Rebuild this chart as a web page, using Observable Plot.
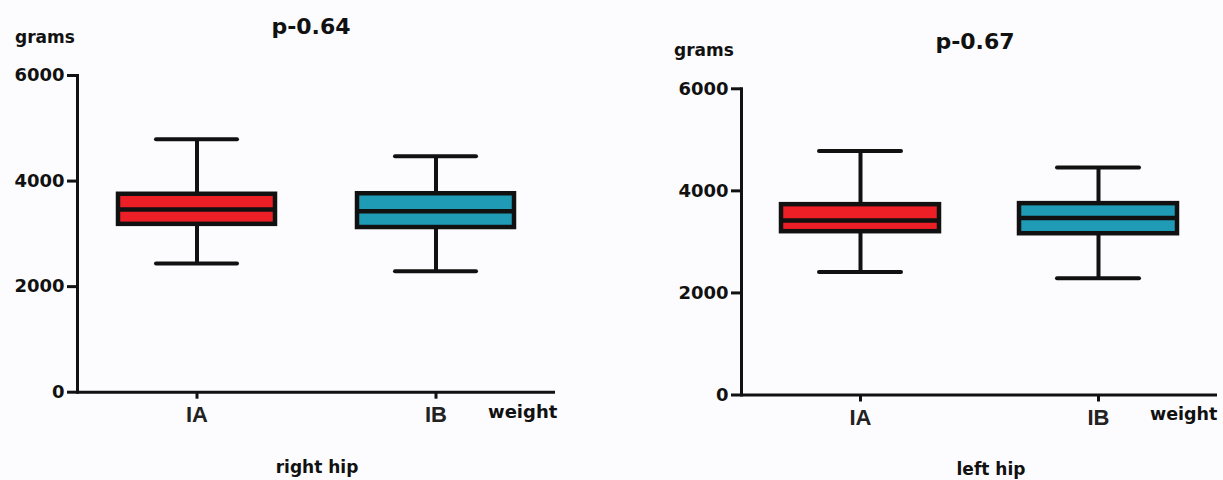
<!DOCTYPE html>
<html>
<head>
<meta charset="utf-8">
<script src="https://cdn.jsdelivr.net/npm/d3@7"></script>
<script src="https://cdn.jsdelivr.net/npm/@observablehq/plot@0.6"></script>
<style>
  html, body { margin: 0; padding: 0; background: #fcfcfe; }
  #wrap { position: relative; width: 1223px; height: 480px; overflow: hidden; background: #fcfcfe; }
  .panel { position: absolute; top: 0; }
  .lbl { position: absolute; font-family: "DejaVu Sans", sans-serif; font-weight: bold; color: #111; line-height: 1; white-space: nowrap; }
  .ctr { transform: translateX(-50%); }
</style>
</head>
<body>
<div id="wrap"></div>
<script>
// ---- data (grams) ----
const groups = ["IA", "IB"];
const colors = ["#ec1f27", "#1f9bb6"];
const yTicks = [0, 2000, 4000, 6000];

// right hip
const rightLow    = [2440, 2290];
const rightQ1     = [3180, 3120];
const rightMedian = [3460, 3430];
const rightQ3     = [3750, 3760];
const rightHigh   = [4790, 4470];

// left hip
const leftLow    = [2410, 2290];
const leftQ1     = [3200, 3160];
const leftMedian = [3420, 3470];
const leftQ3     = [3730, 3750];
const leftHigh   = [4780, 4460];

function rows(lo, q1, med, q3, hi) {
  return groups.map((g, i) => ({group: g, lo: lo[i], q1: q1[i], med: med[i], q3: q3[i], hi: hi[i], col: colors[i]}));
}

function panel(data, m) {
  return Plot.plot({
    width: m.width,
    height: 480,
    marginLeft: m.left,
    marginRight: m.right,
    marginTop: m.top,
    marginBottom: m.bottom,
    style: {background: "transparent", overflow: "visible"},
    x: {type: "band", domain: groups, padding: 0, label: null},
    y: {domain: [0, 6000], label: null},
    color: {type: "identity"},
    marks: [
      Plot.axisY({ticks: yTicks, tickSize: 10, tickPadding: 3, tickFormat: d => String(d),
        fontSize: 18, fontWeight: "bold", fontFamily: "DejaVu Sans", fill: "#111", strokeWidth: 3, stroke: "#111", label: null}),
      Plot.axisX({tickSize: 7, tickPadding: 7, fontSize: 22, fontWeight: "bold",
        fontFamily: "Liberation Sans, Arial, sans-serif", fill: "#222", strokeWidth: 3, stroke: "#111", label: null}),
      Plot.ruleX(data, {x: "group", y1: "lo", y2: "q1", stroke: "#111", strokeWidth: 4}),
      Plot.ruleX(data, {x: "group", y1: "q3", y2: "hi", stroke: "#111", strokeWidth: 4}),
      Plot.tickY(data, {x: "group", y: "lo", stroke: "#111", strokeWidth: 4, strokeLinecap: "round", inset: m.capInset}),
      Plot.tickY(data, {x: "group", y: "hi", stroke: "#111", strokeWidth: 4, strokeLinecap: "round", inset: m.capInset}),
      Plot.barY(data, {x: "group", y1: "q1", y2: "q3", fill: "col", stroke: "#111", strokeWidth: 4.5,
        insetLeft: m.boxInset, insetRight: m.boxInset}),
      Plot.tickY(data, {x: "group", y: "med", stroke: "#111", strokeWidth: 4.5, inset: m.boxInset}),
      Plot.frame({anchor: "left", stroke: "#111", strokeWidth: 3}),
      Plot.ruleY([0], {stroke: "#111", strokeWidth: 3})
    ]
  });
}

const wrap = document.getElementById("wrap");

const left = panel(rows(rightLow, rightQ1, rightMedian, rightQ3, rightHigh),
  {width: 600, left: 77, right: 45, top: 75, bottom: 88.3, boxInset: 41, capInset: 79});
left.classList.add("panel");
left.style.left = "0px";
wrap.appendChild(left);

const right = panel(rows(leftLow, leftQ1, leftMedian, leftQ3, leftHigh),
  {width: 603, left: 121, right: 6, top: 88.3, bottom: 85.5, boxInset: 40, capInset: 78});
right.classList.add("panel");
right.style.left = "620px";
wrap.appendChild(right);

function label(text, x, top, size, center) {
  const d = document.createElement("div");
  d.className = "lbl" + (center ? " ctr" : "");
  d.textContent = text;
  d.style.left = x + "px";
  d.style.top = top + "px";
  d.style.fontSize = size + "px";
  wrap.appendChild(d);
}

// right hip panel texts
label("grams", 15, 28.5, 17, false);
label("p-0.64", 311, 15.5, 22, true);
label("weight", 488, 402.8, 18, false);
label("right hip", 317, 458.6, 17, true);

// left hip panel texts
label("grams", 674, 42.2, 17, false);
label("p-0.67", 975, 31, 22, true);
label("weight", 1150, 405.8, 17.5, false);
label("left hip", 991, 460.6, 17, true);
</script>
</body>
</html>
